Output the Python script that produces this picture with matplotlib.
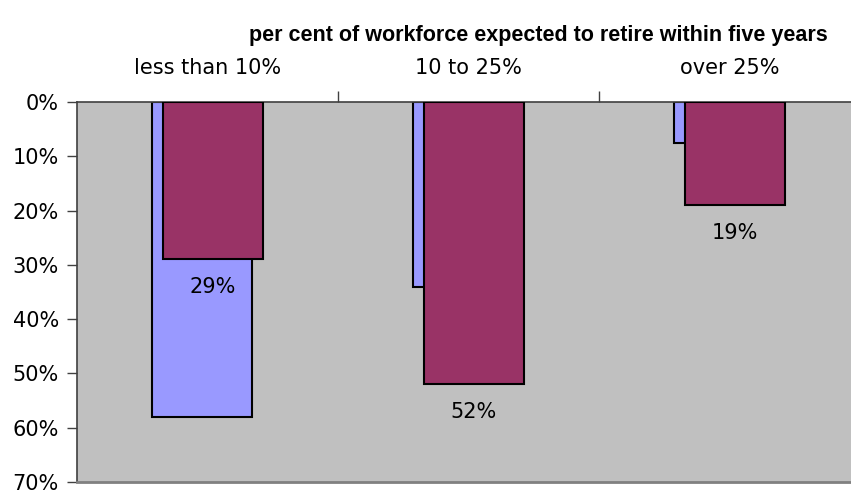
import numpy as np
import matplotlib.pyplot as plt

plt.rcParams['font.family'] = ['DejaVu Sans']

title = 'per cent of workforce expected to retire within five years'
categories = ['less than 10%', '10 to 25%', 'over 25%']
blue_vals = [58, 34, 7.5]     # %
maroon_vals = [29, 52, 19]    # %
maroon_labels = ['29%', '52%', '19%']
yticks = [0, 10, 20, 30, 40, 50, 60, 70]

fig = plt.figure(figsize=(8.51, 4.99), dpi=100)
# plot area runs past the right edge like the original
ax = fig.add_axes([77/851, 1 - 482/499, 783/851, 380/499])
ax.set_facecolor('#C0C0C0')

x = np.arange(len(categories)) + 0.5
w = 0.385
off = 0.021
ax.bar(x - off, blue_vals, width=w, color='#9999FF', edgecolor='black', linewidth=1.5, zorder=2)
ax.bar(x + off, maroon_vals, width=w, color='#993366', edgecolor='black', linewidth=1.5, zorder=3)

for xi, v, lab in zip(x + off, maroon_vals, maroon_labels):
    ax.annotate(lab, (xi, v), xytext=(0, -20), textcoords='offset points',
                ha='center', va='center', fontsize=15)

ax.set_xlim(0, 3)
ax.set_ylim(70, 0)
ax.set_yticks(yticks)
ax.set_yticklabels([f'{t}%' for t in yticks], fontsize=15)
ax.tick_params(axis='y', length=7, width=1, color='#404040', pad=6)

# category boundaries get the ticks, names go in between
ax.xaxis.tick_top()
ax.set_xticks([1, 2])
ax.set_xticklabels([])
ax.set_xticks(x, minor=True)
ax.set_xticklabels(categories, minor=True, fontsize=15)
ax.tick_params(axis='x', which='major', length=8, width=1, color='#404040')
ax.tick_params(axis='x', which='minor', length=0, pad=17)

for s in ['top', 'left']:
    ax.spines[s].set_color('#404040')
    ax.spines[s].set_linewidth(1.2)
ax.spines['bottom'].set_color('#808080')
ax.spines['bottom'].set_linewidth(2)
ax.spines['right'].set_visible(False)

fig.text(538/851, 1 - 36/499, title, ha='center', va='center', fontsize=15.5,
         fontweight='bold', family='Liberation Sans')

fig.savefig('out.png', dpi=100)
